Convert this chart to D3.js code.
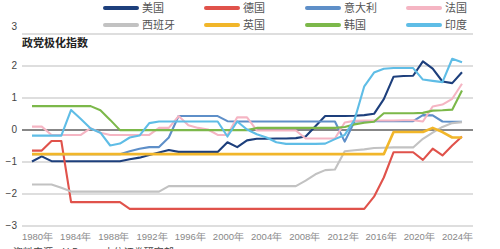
<!DOCTYPE html>
<html>
<head>
<meta charset="utf-8">
<script src="https://cdn.jsdelivr.net/npm/d3@7"></script>
<style>
  body { margin: 0; background: #fff; }
  svg { display: block; font-family: "Noto Sans CJK SC", "Noto Sans", sans-serif; }
</style>
</head>
<body>
<div id="vis"></div>
<script>
// years 1980-2024, one value per year
const years = d3.range(1980, 2025);
const xTicks = [1980, 1984, 1988, 1992, 1996, 2000, 2004, 2008, 2012, 2016, 2020, 2024];
const yTicks = [-3, -2, -1, 0, 1, 2, 3];

const usa = [-1.0, -0.84, -0.99, -0.99, -0.99, -0.99, -0.99, -0.99, -0.99, -0.99,
  -0.93, -0.88, -0.8, -0.72, -0.64, -0.7, -0.7, -0.7, -0.7, -0.7,
  -0.4, -0.55, -0.34, -0.29, -0.29, -0.28, -0.28, -0.27, -0.22, 0.1,
  0.42, 0.42, 0.42, 0.43, 0.45, 0.49, 0.95, 1.65, 1.67, 1.68,
  2.13, 1.9, 1.5, 1.45, 1.79];
const germany = [-0.66, -0.66, -0.36, -0.36, -2.27, -2.27, -2.27, -2.27, -2.27, -2.27,
  -2.48, -2.48, -2.48, -2.48, -2.48, -2.48, -2.48, -2.48, -2.48, -2.48,
  -2.48, -2.48, -2.48, -2.48, -2.48, -2.48, -2.48, -2.48, -2.48, -2.48,
  -2.48, -2.48, -2.48, -2.48, -2.48, -2.1, -1.5, -0.71, -0.71, -0.71,
  -0.95, -0.6, -0.81, -0.5, -0.22];
const italy = [-0.77, -0.77, -0.77, -0.77, -0.77, -0.77, -0.77, -0.77, -0.77, -0.77,
  -0.68, -0.6, -0.55, -0.55, -0.25, 0.42, 0.42, 0.42, 0.42, 0.42,
  0.26, 0.25, 0.25, 0.25, 0.25, 0.25, 0.25, 0.25, 0.25, 0.25,
  0.25, 0.25, -0.38, 0.25, 0.26, 0.26, 0.26, 0.26, 0.26, 0.26,
  0.45, 0.44, 0.25, 0.24, 0.24];
const france = [0.09, 0.09, -0.17, -0.17, -0.17, -0.17, 0.04, -0.1, -0.17, -0.17,
  -0.17, -0.17, -0.17, 0.05, 0.05, 0.42, 0.13, 0.05, 0.0, -0.17,
  -0.17, 0.38, 0.38, -0.03, -0.03, -0.03, -0.03, -0.03, -0.28, -0.28,
  -0.28, -0.28, 0.22, 0.27, 0.28, 0.28, 0.28, 0.28, 0.29, 0.29,
  0.25, 0.72, 0.78, 0.96, 1.43];
const spain = [-1.72, -1.72, -1.72, -1.82, -1.94, -1.94, -1.94, -1.94, -1.94, -1.94,
  -1.94, -1.94, -1.94, -1.94, -1.77, -1.77, -1.77, -1.77, -1.77, -1.77,
  -1.77, -1.77, -1.77, -1.77, -1.77, -1.77, -1.77, -1.77, -1.6, -1.4,
  -1.27, -1.25, -0.68, -0.65, -0.62, -0.58, -0.57, -0.56, -0.56, -0.56,
  -0.29, -0.1, 0.08, 0.2, 0.23];
const uk = [-0.77, -0.77, -0.77, -0.77, -0.77, -0.77, -0.77, -0.77, -0.77, -0.77,
  -0.77, -0.77, -0.77, -0.77, -0.77, -0.77, -0.77, -0.77, -0.77, -0.77,
  -0.77, -0.77, -0.77, -0.77, -0.77, -0.77, -0.77, -0.77, -0.77, -0.77,
  -0.77, -0.77, -0.77, -0.77, -0.77, -0.77, -0.77, -0.08, -0.08, -0.08,
  -0.08, 0.05, -0.08, -0.25, -0.25];
const korea = [0.73, 0.73, 0.73, 0.73, 0.73, 0.73, 0.73, 0.6, 0.3, -0.02,
  -0.02, -0.02, -0.02, -0.02, -0.02, -0.02, -0.02, -0.02, -0.02, -0.02,
  -0.02, -0.02, -0.02, 0.05, 0.05, 0.05, 0.05, 0.05, 0.05, 0.05,
  0.05, 0.05, 0.08, 0.16, 0.21, 0.24, 0.51, 0.51, 0.51, 0.51,
  0.52, 0.59, 0.6, 0.62, 1.22];
const india = [-0.19, -0.19, -0.19, -0.19, 0.61, 0.33, 0.03, -0.1, -0.5, -0.44,
  -0.25, -0.19, 0.2, 0.25, 0.25, 0.25, 0.25, 0.25, 0.25, 0.25,
  -0.22, 0.25, 0.0, -0.15, -0.25, -0.4, -0.45, -0.45, -0.45, -0.45,
  -0.44, -0.3, -0.17, 0.3, 1.35, 1.78, 1.9, 1.92, 1.92, 1.92,
  1.56, 1.52, 1.48, 2.21, 2.1];

const seriesNames = ["美国", "德国", "意大利", "法国", "西班牙", "英国", "韩国", "印度"];
const seriesValues = [usa, germany, italy, france, spain, uk, korea, india];
const colors = ["#1d3f7c", "#e0524b", "#5e8fc8", "#f5b5c3", "#c2c2c2", "#f1b62a", "#7cb84a", "#5fbde6"];

const series = seriesNames.map((name, i) => ({
  name: name,
  color: colors[i],
  values: years.map((yr, j) => ({ year: yr, value: seriesValues[i][j] }))
}));

const width = 500, height = 249;

const svg = d3.select("#vis").append("svg")
  .attr("width", width)
  .attr("height", height);

// scales
const x = d3.scaleLinear().domain([1980, 2024]).range([32, 462]);
const xLab = d3.scaleLinear().domain([1980, 2024]).range([37, 457]);
const y = d3.scaleLinear().domain([-3, 3]).range([225.5, 33.5]);

// y grid + labels
const yAxis = svg.append("g")
  .attr("transform", "translate(22,0)")
  .call(d3.axisLeft(y).tickValues(yTicks).tickSize(-451).tickPadding(5).tickFormat(d3.format("d")));
yAxis.select(".domain").remove();
yAxis.selectAll(".tick line")
  .attr("stroke", d => d === 0 ? "#111" : "#bdbdbd")
  .attr("stroke-width", d => d === 0 ? 1.2 : 1);
yAxis.selectAll(".tick text")
  .attr("fill", "#444")
  .style("font-size", "10px")
  .style("font-family", "'Liberation Sans', Arial, sans-serif")
  .attr("dy", d => d === 3 ? "-0.4em" : "0.32em");

// x labels
const xAxis = svg.append("g")
  .attr("transform", "translate(0,226)")
  .call(d3.axisBottom(xLab).tickValues(xTicks).tickSize(0).tickPadding(7).tickFormat(d => d + "年"));
xAxis.select(".domain").remove();
xAxis.selectAll(".tick text")
  .attr("fill", "#888")
  .style("font-size", "9.5px");

// lines
const line = d3.line()
  .x(d => x(d.year))
  .y(d => y(d.value));

svg.append("g")
  .selectAll("path")
  .data(series)
  .join("path")
  .attr("d", d => line(d.values))
  .attr("fill", "none")
  .attr("stroke", d => d.color)
  .attr("stroke-width", d => d.name === "英国" ? 2.6 : 2.1)
  .attr("stroke-linejoin", "round");

// title
svg.append("text")
  .attr("x", 22)
  .attr("y", 47)
  .attr("fill", "#222")
  .style("font-size", "11px")
  .style("font-weight", "bold")
  .text("政党极化指数");

// legend
const legend = svg.append("g")
  .selectAll("g")
  .data(series)
  .join("g")
  .attr("transform", (d, i) => `translate(${105 + (i % 4) * 101},${i < 4 ? 8 : 25})`);

legend.append("line")
  .attr("x1", 0).attr("x2", 32)
  .attr("stroke", d => d.color)
  .attr("stroke-width", 4)
  .attr("stroke-linecap", "round");

legend.append("text")
  .attr("x", 37)
  .attr("dy", "0.36em")
  .attr("fill", "#555")
  .style("font-size", "11px")
  .text(d => d.name);

// source note, cut off at the bottom edge as in the original
svg.append("text")
  .attr("x", 13)
  .attr("y", 256)
  .attr("fill", "#444")
  .style("font-size", "10px")
  .text("资料来源：V-Dem，中信证券研究部");
</script>
</body>
</html>
